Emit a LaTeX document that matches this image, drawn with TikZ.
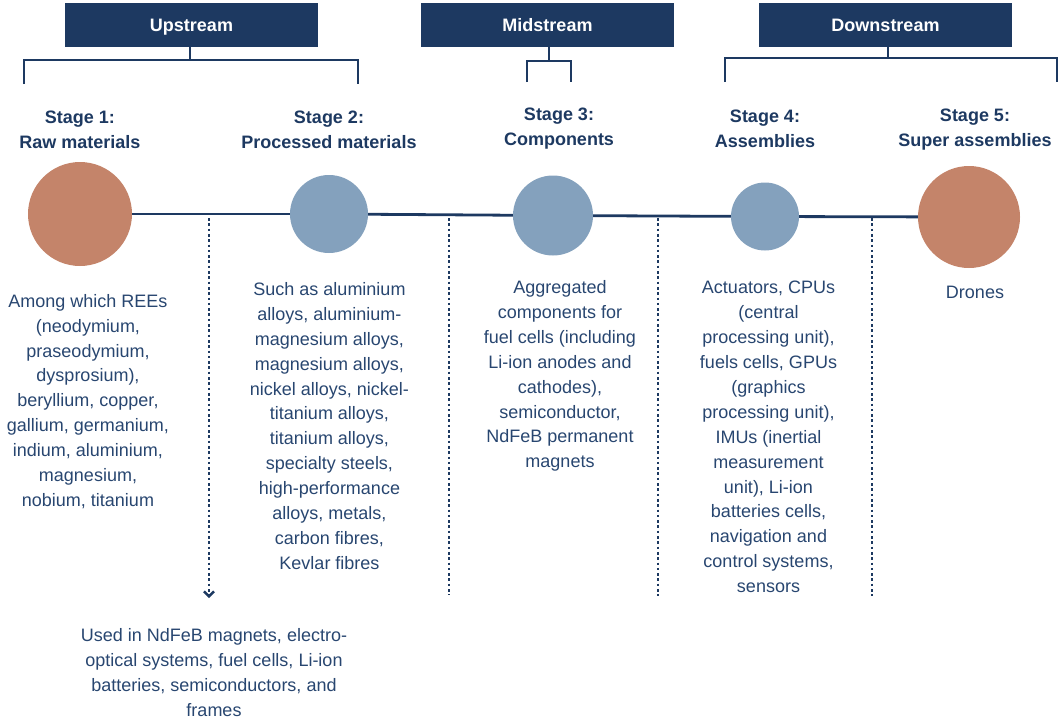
\documentclass[tikz,border=0pt]{standalone}
\usepackage{fontspec}
\setmainfont{Liberation Sans}
\usetikzlibrary{arrows.meta}
\definecolor{navy}{HTML}{1D3961}
\definecolor{txt}{HTML}{284670}
\definecolor{rust}{HTML}{C4846A}
\definecolor{steel}{HTML}{84A1BD}
\begin{document}
\begin{tikzpicture}[x=1pt,y=-1pt,
  hdr/.style={fill=navy, text=white, font=\bfseries\fontsize{18}{22}\selectfont, minimum width=253pt, minimum height=44pt, inner sep=0pt, text height=13pt, text depth=0pt},
  stagelbl/.style={text=navy, font=\bfseries\fontsize{18}{25}\selectfont, align=center, inner sep=0pt},
  body/.style={text=txt, font=\fontsize{18}{24.9}\selectfont, align=center, inner sep=0pt},
  disc/.style={circle, inner sep=0pt, minimum size=#1},
  conn/.style={draw=navy, line width=2.8pt},
  dots/.style={draw=navy, line width=2.6pt, dash pattern=on 2.6pt off 2.7pt},
  brk/.style={draw=navy, line width=2.3pt}]
\useasboundingbox (0,0) rectangle (1060,720);
% headers
\node[hdr] (up) at (191.5,25) {Upstream};
\node[hdr] (mid) at (547.5,25) {Midstream};
\node[hdr] (down) at (885.5,25) {Downstream};
% brackets
\coordinate (upj) at (190,60);
\coordinate (upl) at (24,84);
\coordinate (upr) at (358,84);
\draw[brk] (up.south -| upj) -- (upj);
\draw[brk] (upl) |- (upj) -| (upr);
\coordinate (midj) at (549,61);
\coordinate (midl) at (527,82);
\coordinate (midr) at (571,82);
\draw[brk] (mid.south -| midj) -- (midj);
\draw[brk] (midl) |- (midj) -| (midr);
\coordinate (downj) at (888,58);
\coordinate (downl) at (725,82);
\coordinate (downr) at (1057,82);
\draw[brk] (down.south -| downj) -- (downj);
\draw[brk] (downl) |- (downj) -| (downr);
% stage labels
\node[stagelbl] (s1) at (80,129.5) {Stage 1:\\Raw materials};
\node[stagelbl] (s2) at (329,129.5) {Stage 2:\\Processed materials};
\node[stagelbl] (s3) at (559,128.5) {Stage 3:\\Components};
\node[stagelbl] (s4) at (765,128.5) {Stage 4:\\Assemblies};
\node[stagelbl] (s5) at (975,129.5) {Stage 5:\\Super assemblies};
% circles
\node[disc=104pt, fill=rust] (c1) at (80,214) {};
\node[disc=78pt, fill=steel] (c2) at (329,214) {};
\node[disc=80pt, fill=steel] (c3) at (553,215.5) {};
\node[disc=68pt, fill=steel] (c4) at (765,216.5) {};
\node[disc=102pt, fill=rust] (c5) at (969,217) {};
\draw[conn] (c1) -- (c2);
\draw[conn] (c2) -- (c3);
\draw[conn] (c3) -- (c4);
\draw[conn] (c4) -- (c5);
% dotted separators
\coordinate (d1a) at (209,218); \coordinate (d1b) at (209,598);
\coordinate (d2a) at (449,218); \coordinate (d2b) at (449,595);
\coordinate (d3a) at (658,218); \coordinate (d3b) at (658,596);
\coordinate (d4a) at (872,218); \coordinate (d4b) at (872,596);
\draw[dots, -{Straight Barb[length=5pt,width=10pt,line width=2.4pt]}] (d1a) -- (d1b);
\draw[dots] (d2a) -- (d2b);
\draw[dots] (d3a) -- (d3b);
\draw[dots] (d4a) -- (d4b);
% texts
\node[body] (t1) at (88,401.5) {Among which REEs\\(neodymium,\\praseodymium,\\dysprosium),\\beryllium, copper,\\gallium, germanium,\\indium, aluminium,\\magnesium,\\nobium, titanium};
\node[body] (t2) at (329.5,426) {Such as aluminium\\alloys, aluminium-\\magnesium alloys,\\magnesium alloys,\\nickel alloys, nickel-\\titanium alloys,\\titanium alloys,\\specialty steels,\\high-performance\\alloys, metals,\\carbon fibres,\\Kevlar fibres};
\node[body] (t3) at (560,376) {Aggregated\\components for\\fuel cells (including\\Li-ion anodes and\\cathodes),\\semiconductor,\\NdFeB permanent\\magnets};
\node[body] (t4) at (768.5,437) {Actuators, CPUs\\(central\\processing unit),\\fuels cells, GPUs\\(graphics\\processing unit),\\IMUs (inertial\\measurement\\unit), Li-ion\\batteries cells,\\navigation and\\control systems,\\sensors};
\node[body] (t5) at (975,292) {Drones};
\node[body] (t6) at (214,672.5) {Used in NdFeB magnets, electro-\\optical systems, fuel cells, Li-ion\\batteries, semiconductors, and\\frames};
\end{tikzpicture}
\end{document}
